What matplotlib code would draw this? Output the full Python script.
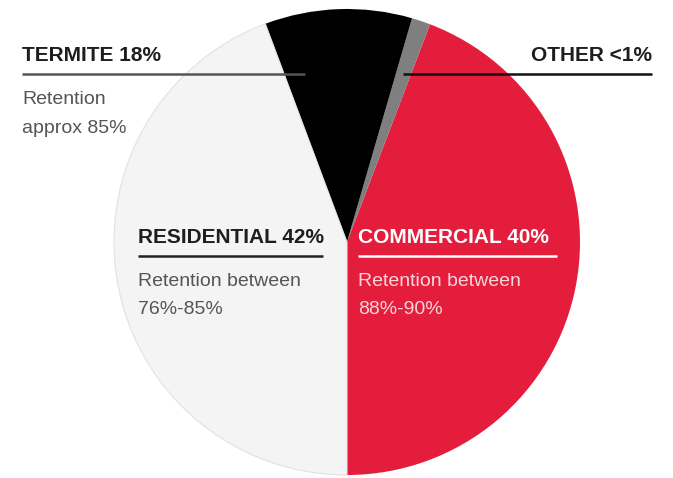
import matplotlib
matplotlib.use("Agg")
import matplotlib.pyplot as plt

# slice sizes (percent of the circle), counter-clockwise from 6 o'clock
segments = ["Commercial", "Other", "Termite", "Residential"]
shares = [44.2, 1.3, 10.2, 44.3]
colors = ["#e31d3b", "#7f7f7f", "#000000", "#f4f4f4"]

titles = ["COMMERCIAL 40%", "OTHER <1%", "TERMITE 18%", "RESIDENTIAL 42%"]
notes = [["Retention between", "88%-90%"], [], ["Retention", "approx 85%"],
         ["Retention between", "76%-85%"]]

W, H = 673, 478
fig = plt.figure(figsize=(W / 100, H / 100), dpi=100)
ax = fig.add_axes([0, 0, 1, 1])

wedges, _ = ax.pie(shares, colors=colors, startangle=-90, counterclock=True,
                   center=(347, H - 242), radius=233, frame=True,
                   wedgeprops=dict(linewidth=0))
wedges[3].set_edgecolor("#e2e2e2")
wedges[3].set_linewidth(0.8)
ax.set_xlim(0, W)
ax.set_ylim(0, H)
ax.set_aspect("equal")
ax.axis("off")

head = dict(family=["Liberation Sans", "DejaVu Sans"], fontweight="bold", fontsize=15)
body = dict(family=["Liberation Sans", "DejaVu Sans"], fontsize=14)


def label(x, y, title, note, line_to, tc, lc, nc, ha="left", lw=1.8):
    ax.text(x, H - y, title, color=tc, ha=ha, va="center", **head)
    ax.plot(line_to, [H - y - 19, H - y - 19], color=lc, lw=lw, solid_capstyle="butt")
    for i, s in enumerate(note):
        ax.text(x, H - y - 44 - 29 * i, s, color=nc, ha=ha, va="center", **body)


# termite (top left)
label(22, 55, titles[2], notes[2], [22, 305], "#1e1e1e", "#555555", "#555555")
# other (top right)
label(652, 55, titles[1], notes[1], [403, 652], "#1e1e1e", "#111111", "#555555", ha="right")
# residential
label(138, 237, titles[3], notes[3], [138, 323], "#1e1e1e", "#222222", "#555555")
# commercial
label(358, 237, titles[0], notes[0], [358, 557], "#ffffff", "#ffffff", "#f8d6dc")

fig.savefig("out.png", dpi=100, facecolor="white")
